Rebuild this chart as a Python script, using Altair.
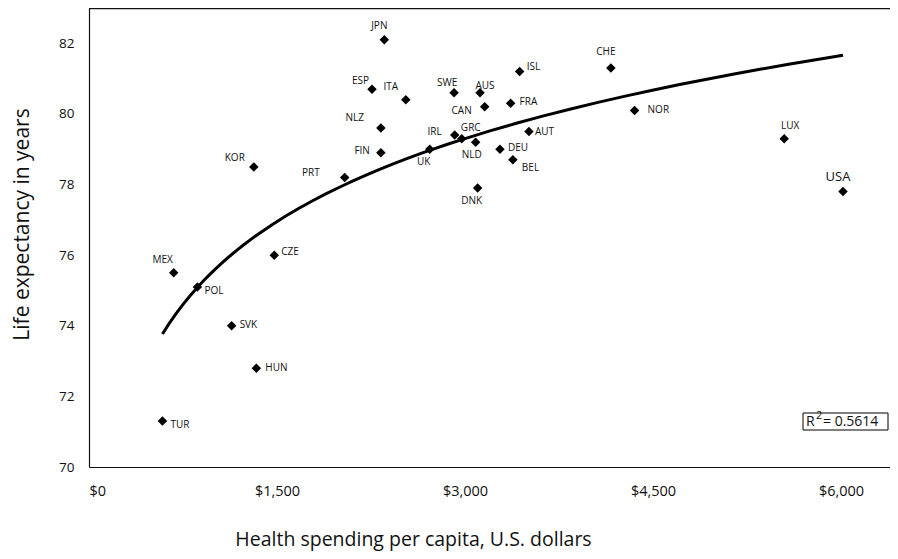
import altair as alt
import pandas as pd

# ---- data ----
codes = ["JPN", "ESP", "ITA", "SWE", "AUS", "ISL", "CAN", "FRA", "NLZ", "IRL",
         "GRC", "NLD", "AUT", "FIN", "UK", "DEU", "BEL", "PRT", "DNK", "KOR",
         "MEX", "POL", "CZE", "SVK", "HUN", "TUR", "NOR", "LUX", "USA", "CHE"]
spending = [2356, 2258, 2528, 2913, 3120, 3436, 3157, 3364, 2329, 2918,
            2974, 3085, 3510, 2329, 2719, 3279, 3382, 2040, 3101, 1315,
            676, 865, 1478, 1138, 1335, 586, 4353, 5547, 6016, 4164]
life = [82.1, 80.7, 80.4, 80.6, 80.6, 81.2, 80.2, 80.3, 79.6, 79.4,
        79.3, 79.2, 79.5, 78.9, 79.0, 79.0, 78.7, 78.2, 77.9, 78.5,
        75.5, 75.1, 76.0, 74.0, 72.8, 71.3, 80.1, 79.3, 77.8, 81.3]
x_ticks = [0, 1500, 3000, 4500, 6000]
y_ticks = [70, 72, 74, 76, 78, 80, 82]
r2_text = "= 0.5614"

# ---- label placement (layout only): align, dx, dy, font size ----
label_layout = {
    "JPN": ("center", -5, -14, 10), "ESP": ("right", -3, -8, 10),
    "ITA": ("center", -15, -13, 10), "SWE": ("center", -7, -10, 10),
    "AUS": ("center", 5, -7, 10), "ISL": ("left", 7, -5, 10),
    "CAN": ("right", -13, 4, 10), "FRA": ("left", 9, -1, 10),
    "NLZ": ("right", -17, -10, 10), "IRL": ("right", -13, -3, 10),
    "GRC": ("center", 9, -11, 10), "NLD": ("center", -4, 13, 10),
    "AUT": ("left", 6, 0, 10), "FIN": ("right", -11, -2, 10),
    "UK": ("center", -6, 13, 10), "DEU": ("left", 8, -1, 10),
    "BEL": ("left", 9, 8, 10), "PRT": ("right", -25, -4, 10),
    "DNK": ("center", -6, 13, 10), "KOR": ("right", -9, -9, 10),
    "MEX": ("center", -11, -13, 10), "POL": ("left", 7, 4, 10),
    "CZE": ("left", 7, -3, 10), "SVK": ("left", 8, -1, 10),
    "HUN": ("left", 9, 0, 10), "TUR": ("left", 8, 4, 10),
    "NOR": ("left", 13, 0, 10), "LUX": ("center", 6, -13, 10),
    "USA": ("center", -5, -15, 13), "CHE": ("center", -5, -16, 10),
}

FONT = "Open Sans"
W, H = 801, 459
df = pd.DataFrame({"code": codes, "spend": spending, "life": life})

x_enc = alt.X("spend:Q",
              scale=alt.Scale(domain=[0, 6391], nice=False, zero=False),
              axis=alt.Axis(values=x_ticks, format="$,.0f", grid=False, ticks=False,
                            domain=True, domainColor="#111", domainWidth=1.2,
                            labelFontSize=14.5, labelPadding=17,
                            labelFont=FONT, labelColor="#111",
                            title="Health spending per capita, U.S. dollars",
                            titleFontSize=19.5, titleFont=FONT, titleFontWeight="normal",
                            titleBaseline="middle", titleX=324, titleY=72,
                            titleColor="#111"))
y_enc = alt.Y("life:Q",
              scale=alt.Scale(domain=[70, 83], nice=False, zero=False),
              axis=alt.Axis(values=y_ticks, grid=False, ticks=False,
                            domain=True, domainColor="#111", domainWidth=1.2,
                            labelFontSize=13.5, labelPadding=15, labelFont=FONT,
                            labelColor="#111",
                            title="Life expectancy in years", titleFontSize=21,
                            titleFont=FONT, titleFontWeight="normal",
                            titleBaseline="middle", titleX=-67, titleY=216,
                            titleColor="#111"))

base = alt.Chart(df)

points = base.mark_point(shape="diamond", filled=True, color="black", size=90,
                         opacity=1).encode(x=x_enc, y=y_enc)

trend = base.transform_regression("spend", "life", method="log").mark_line(
    color="black", strokeWidth=3).encode(x="spend:Q", y="life:Q")

# group labels by placement
groups = {}
for c, spec in label_layout.items():
    groups.setdefault(spec, []).append(c)

label_layers = []
for (align, dx, dy, fs), cs in groups.items():
    label_layers.append(
        base.transform_filter(alt.FieldOneOfPredicate(field="code", oneOf=cs))
        .mark_text(align=align, baseline="middle", dx=dx, dy=dy, fontSize=fs,
                   font=FONT, color="#111")
        .encode(x="spend:Q", y="life:Q", text="code:N")
    )

one = pd.DataFrame({"t": [""]})
top_line = alt.Chart(one).mark_rule(color="#111", strokeWidth=1.2).encode(
    x=alt.value(0), x2=alt.value(W), y=alt.value(0.6))
r2_box = alt.Chart(one).mark_rect(fill="white", stroke="black", strokeWidth=1).encode(
    x=alt.value(714), x2=alt.value(799), y=alt.value(405), y2=alt.value(422))
r_txt = alt.Chart(one).mark_text(text="R", align="left", baseline="middle",
                                 fontSize=14, font=FONT, color="#111").encode(
    x=alt.value(717), y=alt.value(414))
sup_txt = alt.Chart(one).mark_text(text="2", align="left", baseline="middle",
                                   fontSize=11, font=FONT, color="#111").encode(
    x=alt.value(727), y=alt.value(408))
val_txt = alt.Chart(one).mark_text(text=r2_text, align="left", baseline="middle",
                                   fontSize=14, font=FONT, color="#111").encode(
    x=alt.value(734), y=alt.value(414))

chart = alt.layer(points, trend, *label_layers, top_line, r2_box, r_txt, sup_txt,
                  val_txt).properties(
    width=W, height=H,
    autosize=alt.AutoSizeParams(type="none"),
    padding={"left": 81, "top": 0, "right": 0, "bottom": 84},
    background="white",
).configure_view(stroke=None)

chart.save("out.html", embed_options={"renderer": "svg", "actions": False})
